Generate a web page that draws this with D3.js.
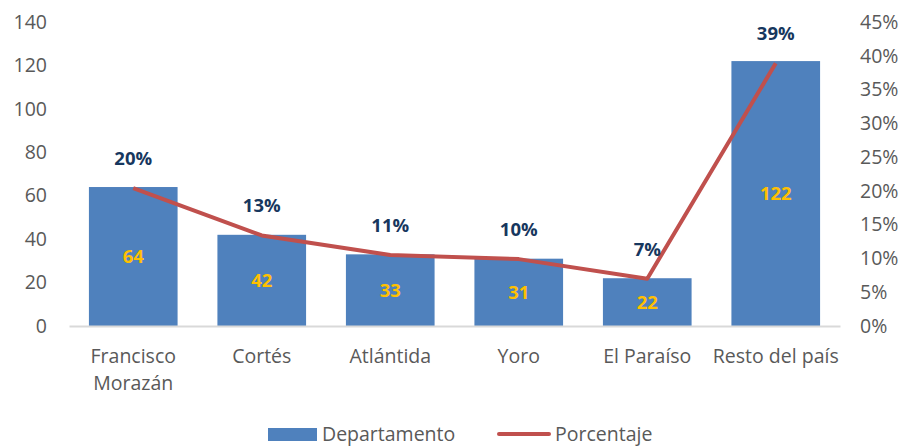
<!DOCTYPE html>
<html><head><meta charset="utf-8">
<script src="https://cdn.jsdelivr.net/npm/d3@7"></script>
<style>body{margin:0;background:#fff;} text{font-family:"Open Sans",sans-serif;}</style>
</head><body>
<svg id="c" width="905" height="447"></svg>
<script>
const categories = [["Francisco","Morazán"],["Cortés"],["Atlántida"],["Yoro"],["El Paraíso"],["Resto del país"]];
const departamento = [64, 42, 33, 31, 22, 122];
const porcentaje = [20.4, 13.4, 10.5, 9.9, 7.0, 38.9];
const pctLabels = ["20%","13%","11%","10%","7%","39%"];
const leftTicks = [0,20,40,60,80,100,120,140];
const rightTicks = [0,5,10,15,20,25,30,35,40,45];

const FONT = "Open Sans";
const AX = 19.5, LB = 18.5;
const svg = d3.select("#c");
const L = 69, R = 840, T = 22, B = 326;
const keys = categories.map((c,i)=>i);
const x = d3.scaleBand().domain(keys).range([L,R]).paddingInner(0.31).paddingOuter(0.155);
const y = d3.scaleLinear().domain([0,140]).range([B,T]);
const y2 = d3.scaleLinear().domain([0,45]).range([B,T]);

// left axis
const la = svg.append("g").attr("transform",`translate(${L},0)`)
  .call(d3.axisLeft(y).tickValues(leftTicks).tickSize(0).tickPadding(22));
la.select(".domain").remove();
la.selectAll("text").attr("font-size",AX).attr("fill","#595959").style("font-family",FONT);

// right axis
const ra = svg.append("g").attr("transform",`translate(${R},0)`)
  .call(d3.axisRight(y2).tickValues(rightTicks).tickFormat(d=>d+"%").tickSize(0).tickPadding(20));
ra.select(".domain").remove();
ra.selectAll("text").attr("font-size",AX).attr("fill","#595959").style("font-family",FONT);

// bars
svg.append("g").selectAll("rect").data(departamento).join("rect")
  .attr("x",(d,i)=>x(i)).attr("width",x.bandwidth())
  .attr("y",d=>y(d)).attr("height",d=>B-y(d)).attr("fill","#4F81BD");

// x axis
const xa = svg.append("g").attr("transform",`translate(0,${B})`)
  .call(d3.axisBottom(x).tickSize(0).tickFormat(""));
xa.select(".domain").attr("stroke","#D9D9D9").attr("stroke-width",2);
xa.selectAll(".tick").each(function(d){
  const t = d3.select(this).append("text").attr("fill","#595959").attr("font-size",AX)
    .attr("text-anchor","middle").style("font-family",FONT);
  categories[d].forEach((line,j)=>t.append("tspan").attr("x",0).attr("y",37+j*27).text(line));
});

// value labels
svg.append("g").selectAll("text").data(departamento).join("text")
  .attr("x",(d,i)=>x(i)+x.bandwidth()/2).attr("y",d=>y(d/2)+6.5)
  .attr("text-anchor","middle").attr("font-size",LB).attr("font-weight","bold")
  .attr("fill","#FFC000").text(d=>d);

// line
const line = d3.line().x((d,i)=>x(i)+x.bandwidth()/2).y(d=>y2(d));
svg.append("path").datum(porcentaje).attr("d",line).attr("fill","none")
  .attr("stroke","#C0504D").attr("stroke-width",4).attr("stroke-linejoin","round");

// pct labels
svg.append("g").selectAll("text").data(porcentaje).join("text")
  .attr("x",(d,i)=>x(i)+x.bandwidth()/2).attr("y",d=>y2(d)-23)
  .attr("text-anchor","middle").attr("font-size",LB).attr("font-weight","bold")
  .attr("fill","#17375E").text((d,i)=>pctLabels[i]);

// legend
const lg = svg.append("g");
lg.append("rect").attr("x",268).attr("y",428).attr("width",49).attr("height",13).attr("fill","#4F81BD");
lg.append("text").attr("x",322).attr("y",441).attr("font-size",AX).attr("fill","#595959").text("Departamento");
lg.append("line").attr("x1",499).attr("x2",549).attr("y1",434).attr("y2",434)
  .attr("stroke","#C0504D").attr("stroke-width",4).attr("stroke-linecap","round");
lg.append("text").attr("x",555).attr("y",441).attr("font-size",AX).attr("fill","#595959").text("Porcentaje");
</script>
</body></html>
